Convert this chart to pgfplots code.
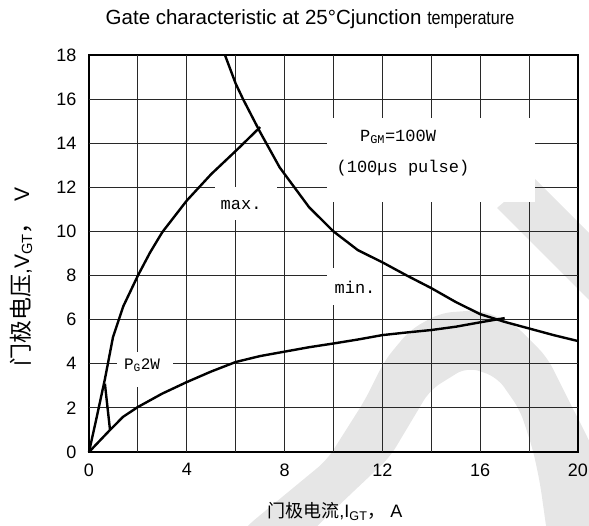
\documentclass[border=0pt]{standalone}
\usepackage{fontspec}
\setmainfont{Liberation Sans}
\newfontfamily\cjk{Noto Sans CJK SC}
\newfontfamily\mono{Liberation Mono}
\usepackage{graphicx}
\usepackage{pgfplots}
\pgfplotsset{compat=1.18}

\definecolor{wm}{RGB}{230,230,230}
\definecolor{gridc}{RGB}{40,40,40}

\begin{document}
\begin{tikzpicture}
% watermark, in pt from the lower left corner of the axis box
\fill[wm] (408pt,244pt) -- (444pt,275pt) -- (551pt,168pt) -- (515pt,137pt) -- cycle;
\fill[wm, rounded corners=12pt] (141pt,-93pt) -- (158pt,-74pt) -- (238pt,-8pt) -- (276pt,52pt)
    -- (296pt,92pt) -- (321pt,122pt) -- (351pt,139pt) -- (391pt,142pt) -- (424pt,129pt)
    -- (458pt,95pt) -- (481pt,49pt) -- (500pt,12pt) -- (516pt,-28pt) -- (531pt,-88pt)
    -- (459pt,-88pt) -- (451pt,-31pt) -- (444pt,2pt) -- (431pt,42pt) -- (408pt,75pt)
    -- (378pt,85pt) -- (341pt,62pt) -- (301pt,-5pt) -- (228pt,-74pt) -- (211pt,-93pt) -- cycle;

\begin{axis}[
    at={(0pt,0pt)}, anchor=south west,
    scale only axis, width=489pt, height=397pt,
    xmin=0, xmax=20, ymin=0, ymax=18,
    xtick={0,4,...,20},
    ytick={0,2,...,18},
    major tick length=0pt, minor tick length=0pt,
    axis line style={draw=black, line width=1.4pt},
    clip=false,
    /pgf/number format/assume math mode=true,
    ticklabel style={font=\fontsize{18}{20}\selectfont},
    xticklabel style={yshift=-8pt},
    yticklabel style={xshift=-9pt},
]
% grid, as thin filled strips
\pgfplotsinvokeforeach{2,4,6,8,10,12,14,16,18}{
    \fill[gridc] ([xshift=-0.6pt]axis cs:#1,0) rectangle ([xshift=0.6pt]axis cs:#1,18);
}
\pgfplotsinvokeforeach{2,4,6,8,10,12,14,16}{
    \fill[gridc] ([yshift=-0.6pt]axis cs:0,#1) rectangle ([yshift=0.6pt]axis cs:20,#1);
}
% white boxes behind labels
\fill[white] (axis cs:5.15,10.52) rectangle (axis cs:7.69,12.0);
\fill[white] (axis cs:9.73,6.66) rectangle (axis cs:12.0,8.34);
\fill[white] (axis cs:9.73,11.33) rectangle (axis cs:18.24,15.14);
\fill[white] (axis cs:1.15,2.95) rectangle (axis cs:3.44,4.53);

% max
\addplot[black, line width=2.4pt, line join=round] coordinates {
    (0,0) (0.3,1.5) (0.65,3.3) (0.98,5.2) (1.4,6.6) (2.0,8.0) (2.5,9.05)
    (3.0,9.97) (4.0,11.4) (5.0,12.6) (6.05,13.7) (7.0,14.73)
};
% min
\addplot[black, line width=2.4pt, line join=round] coordinates {
    (0,0) (0.86,1.0) (1.4,1.6) (2.0,2.04) (3,2.65) (4,3.17) (5,3.65) (6,4.08)
    (7,4.35) (8,4.55) (9,4.75) (10,4.92) (11,5.1) (12,5.3) (13,5.42) (14,5.53)
    (15,5.68) (16,5.88) (17,6.07)
};
% P_G = 2 W
\addplot[black, line width=2.4pt] coordinates {(0.65,3.1) (0.86,1.0)};
% P_GM = 100 W
\addplot[black, line width=2.4pt, line join=round] coordinates {
    (5.56,18) (6,16.7) (6.3,16.0) (7,14.5) (7.8,12.9) (9,11.1) (10,10.0)
    (11,9.15) (12,8.6) (13,8.0) (14,7.43) (15,6.8) (16,6.25) (17,5.9)
    (18,5.6) (19,5.3) (20,5.03)
};

\node[font=\mono\fontsize{17}{18}\selectfont] at (axis cs:6.22,11.2) {max.};
\node[font=\mono\fontsize{17}{18}\selectfont] at (axis cs:10.88,7.48) {min.};
\node[font=\mono\fontsize{17}{18}\selectfont] at (axis cs:12.64,14.28) {P\textsubscript{GM}=100W};
\node[font=\mono\fontsize{17}{18}\selectfont] at (axis cs:12.84,12.87) {(100µs pulse)};
\node[font=\mono\fontsize{16}{18}\selectfont] at (axis cs:2.17,3.94) {P\textsubscript{G}2W};

\node[anchor=base, font=\fontsize{20.5}{22}\selectfont] at ([yshift=30pt]axis description cs:0.452,1)
    {Gate characteristic at 25°Cjunction {\fontsize{19}{20}\selectfont\scalebox{0.85}[1]{temperature}}};
\node[anchor=base, font=\fontsize{18}{20}\selectfont] at ([yshift=-66pt]axis description cs:0.503,0)
    {{\cjk 门极电流},I\textsubscript{GT}{\cjk ，} A};
\node[rotate=90, font=\fontsize{21}{22}\selectfont] at ([xshift=-68pt]axis description cs:0,0.441)
    {{\cjk\fontsize{23}{24}\selectfont 门极电压},V\textsubscript{GT}{\cjk\fontsize{23}{24}\selectfont ，}\hspace{10pt}V};
\end{axis}
\pgfresetboundingbox
\path (-89pt,-74pt) rectangle (500pt,452pt);
\end{tikzpicture}
\end{document}
